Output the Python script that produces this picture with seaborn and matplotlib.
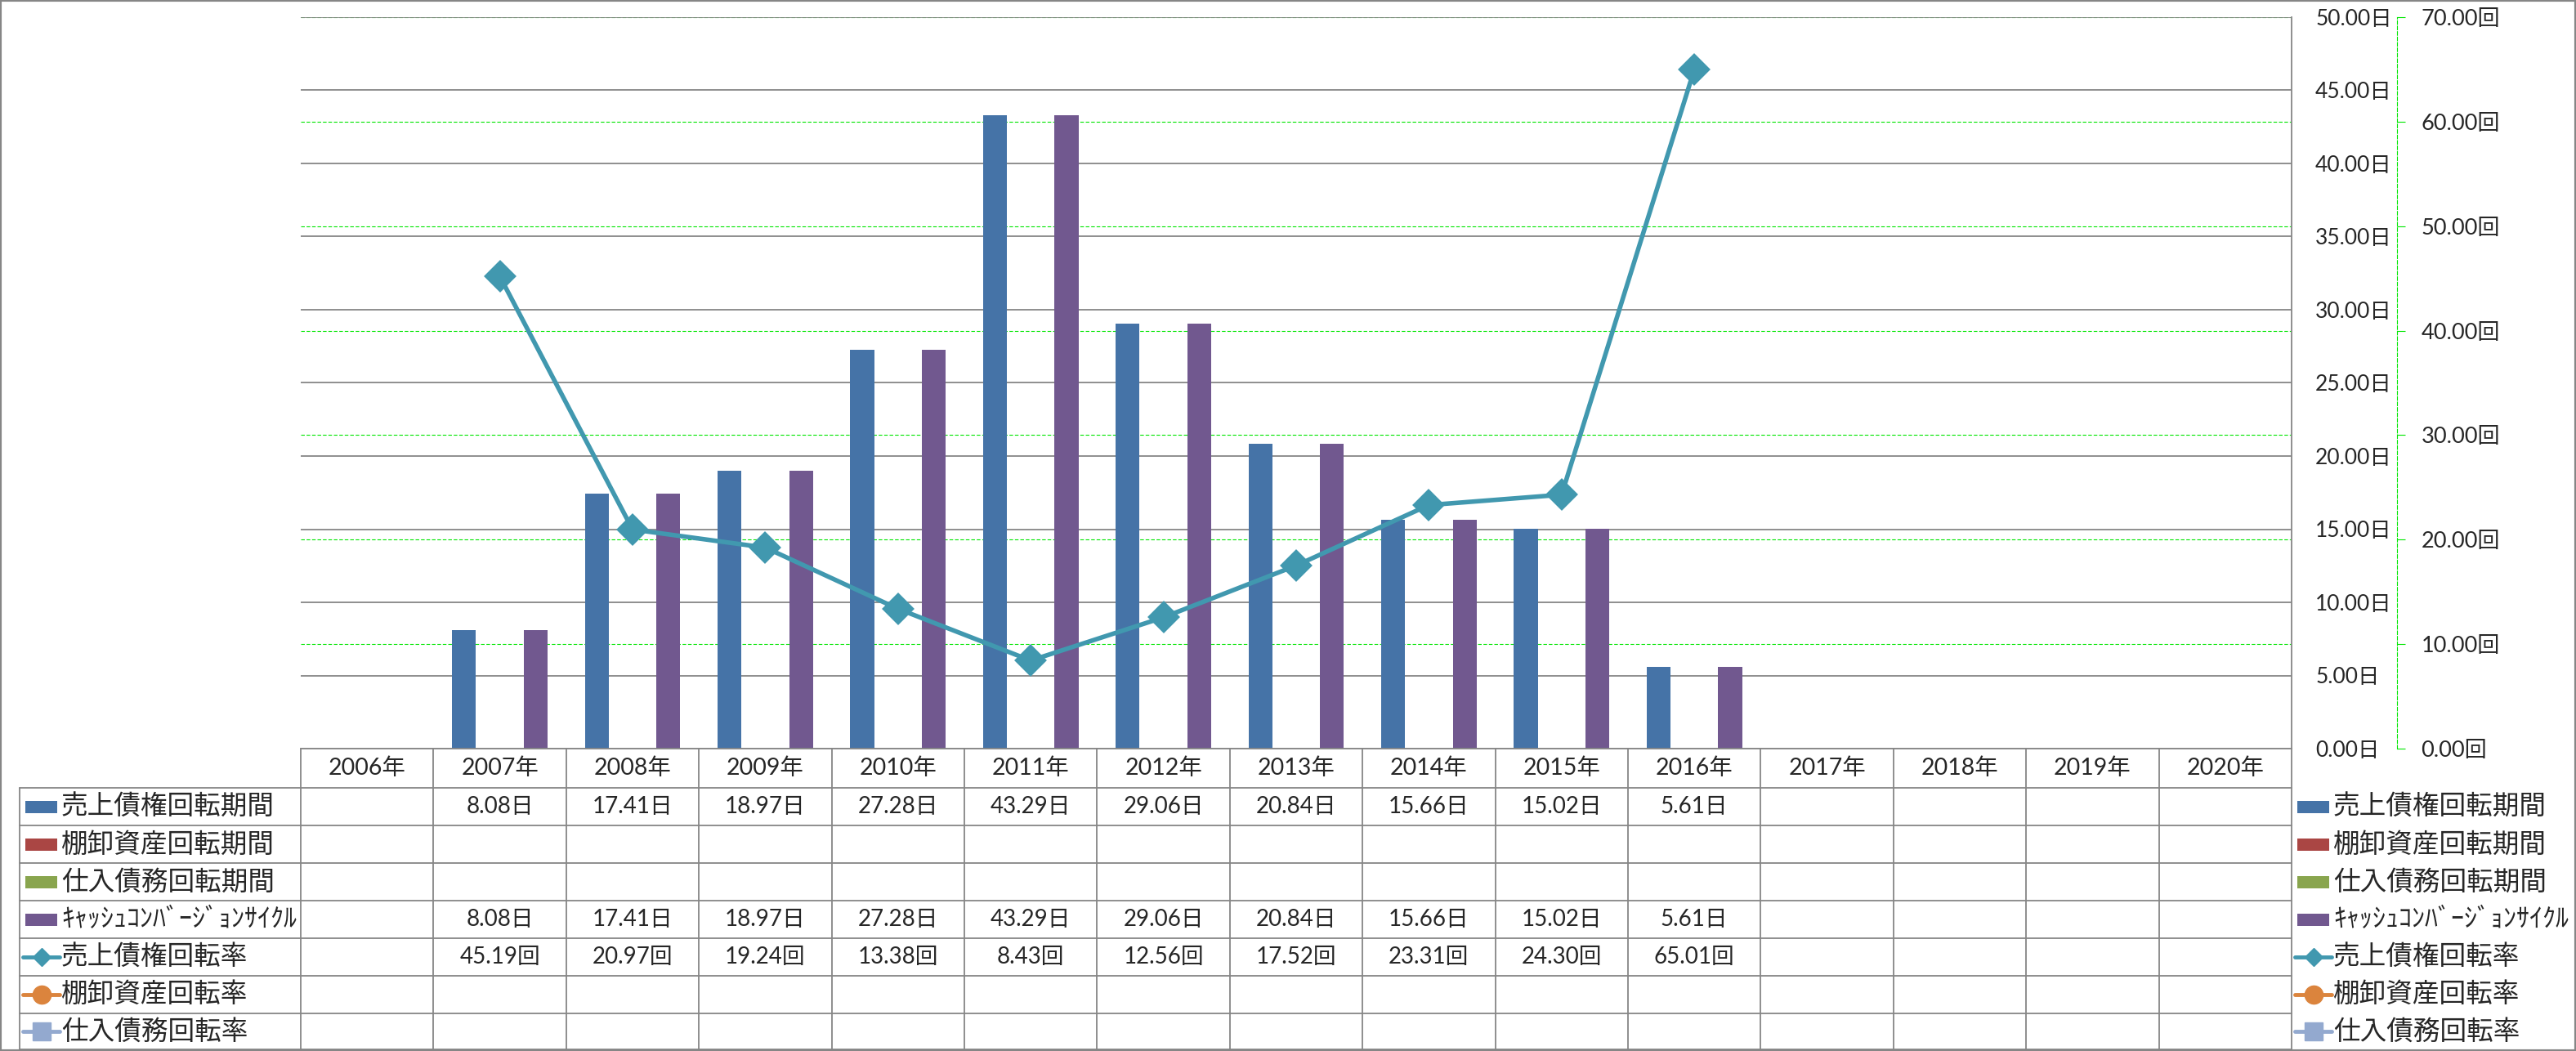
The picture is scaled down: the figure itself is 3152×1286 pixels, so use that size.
import matplotlib
matplotlib.use("Agg")
import matplotlib.pyplot as plt
import seaborn as sns
import pandas as pd
from matplotlib.lines import Line2D
from matplotlib.patches import Rectangle
from matplotlib.transforms import blended_transform_factory
import matplotlib.ticker as mticker

# ---------------- data ----------------
years = [f"{y}年" for y in range(2006, 2021)]
data_years = [f"{y}年" for y in range(2007, 2017)]

receivable_days = [8.08, 17.41, 18.97, 27.28, 43.29, 29.06, 20.84, 15.66, 15.02, 5.61]
inventory_days = []
payable_days = []
ccc_days = [8.08, 17.41, 18.97, 27.28, 43.29, 29.06, 20.84, 15.66, 15.02, 5.61]
receivable_turnover = [45.19, 20.97, 19.24, 13.38, 8.43, 12.56, 17.52, 23.31, 24.30, 65.01]
inventory_turnover = []
payable_turnover = []

bar_names = ["売上債権回転期間", "棚卸資産回転期間", "仕入債務回転期間", "ｷｬｯｼｭｺﾝﾊﾞｰｼﾞｮﾝｻｲｸﾙ"]
line_names = ["売上債権回転率", "棚卸資産回転率", "仕入債務回転率"]
bar_values = [receivable_days, inventory_days, payable_days, ccc_days]
line_values = [receivable_turnover, inventory_turnover, payable_turnover]

bar_colors = ["#4573A7", "#AA4644", "#89A54E", "#71588F"]
line_colors = ["#4198AF", "#DB843D", "#93A9CF"]
line_markers = ["D", "o", "s"]

y1_max, y1_step = 50, 5
y2_max, y2_step = 70, 10

# ---------------- style ----------------
sns.set_style("white")
FONT = ["Lato", "Noto Sans CJK JP", "DejaVu Sans"]
plt.rcParams["font.family"] = FONT

W, H = 3152, 1286
fig = plt.figure(figsize=(W / 100, H / 100), dpi=100)
fig.patch.set_facecolor("white")

def fx(px):
    return px / W

def fy(px):
    return 1 - px / H

PLOT_L, PLOT_R, PLOT_T, PLOT_B = 368, 2804, 21, 916
ax = fig.add_axes([fx(PLOT_L), fy(PLOT_B), fx(PLOT_R) - fx(PLOT_L), fy(PLOT_T) - fy(PLOT_B)])

GRAY = "#868686"
GREEN = "#00E600"

# ---------------- bars ----------------
rows = []
for name, vals in zip(bar_names, bar_values):
    for yr, v in zip(data_years, vals):
        rows.append({"year": yr, "series": name, "value": v})
bars_df = pd.DataFrame(rows)

sns.barplot(data=bars_df, x="year", y="value", hue="series", order=years,
            hue_order=bar_names, palette=dict(zip(bar_names, bar_colors)),
            width=0.72, errorbar=None, saturation=1, linewidth=0,
            legend=False, ax=ax)

# ---------------- line (secondary axis) ----------------
ax2 = ax.twinx()
rate_df = pd.DataFrame({"year": data_years, "value": receivable_turnover})
sns.pointplot(data=rate_df, x="year", y="value", order=years, color=line_colors[0],
              markers="D", markersize=17, linewidth=4, errorbar=None, ax=ax2)

# primary axis formatting (after twinx, which moves ticks to the left)
ax.set_xlim(-0.5, len(years) - 0.5)
ax.set_ylim(0, y1_max)
ax.yaxis.set_major_locator(mticker.MultipleLocator(y1_step))
ax.yaxis.set_major_formatter(mticker.FuncFormatter(lambda v, p: f"{v:.2f}日"))
ax.set_axisbelow(True)
ax.grid(axis="y", color=GRAY, lw=1.3, ls="-")
ax.grid(axis="x", visible=False)
ax.set_xlabel("")
ax.set_ylabel("")
ax.yaxis.tick_right()
ax.tick_params(axis="x", bottom=False, labelbottom=False)
ax.tick_params(axis="y", left=False, right=False, labelleft=False, labelright=True,
               length=0, pad=21, labelsize=19)
for s in ["top", "left"]:
    ax.spines[s].set_visible(False)
ax.spines["bottom"].set_color(GRAY)
ax.spines["bottom"].set_linewidth(1.3)
ax.spines["right"].set_color(GRAY)
ax.spines["right"].set_linewidth(1.3)

ax2.set_xlim(-0.5, len(years) - 0.5)
ax2.set_ylim(0, y2_max)
ax2.yaxis.set_major_locator(mticker.MultipleLocator(y2_step))
ax2.yaxis.set_major_formatter(mticker.FuncFormatter(lambda v, p: f"{v:.2f}回"))
ax2.grid(False)
ax2.set_xlabel("")
ax2.set_ylabel("")
for s in ["top", "left", "bottom"]:
    ax2.spines[s].set_visible(False)
ax2.spines["right"].set_position(("outward", 93))
ax2.spines["right"].set_color(GREEN)
ax2.spines["right"].set_linewidth(0.8)
ax2.spines["right"].set_linestyle((0, (4, 2)))
ax2.tick_params(axis="y", right=True, left=False, labelleft=False, labelright=True,
                length=7.2, width=0.8, color=GREEN, pad=14, labelsize=19.5)
ax2.tick_params(axis="x", bottom=False, labelbottom=False)

# secondary-axis gridlines drawn behind the bars (on the primary axes)
for t in ax2.get_yticks():
    if 0 < t <= y2_max:
        ax.axhline(t * y1_max / y2_max, color=GREEN, lw=0.8, ls=(0, (4, 2)), zorder=0.5)

# ---------------- data table ----------------
HEADER_T, HEADER_B = 916, 964
ROW_H = 46
TABLE_L = 24
n_rows = 7
row_tops = [HEADER_B + i * ROW_H for i in range(n_rows + 1)]
row_tops[-1] = 1284

tdx = blended_transform_factory(ax.transData, fig.transFigure)
lkw = dict(color=GRAY, lw=1.3, clip_on=False)

for i in range(len(years) + 1):
    fig.add_artist(Line2D([i - 0.5, i - 0.5], [fy(HEADER_T), fy(row_tops[-1])],
                          transform=tdx, **lkw))
fig.add_artist(Line2D([fx(TABLE_L), fx(TABLE_L)], [fy(HEADER_B), fy(row_tops[-1])],
                      transform=fig.transFigure, **lkw))
for yp in row_tops:
    fig.add_artist(Line2D([fx(TABLE_L), fx(PLOT_R)], [fy(yp), fy(yp)],
                          transform=fig.transFigure, **lkw))

for i, yr in enumerate(years):
    fig.text(i, fy((HEADER_T + HEADER_B) / 2), yr, transform=tdx, ha="center",
             va="center", fontsize=20.5)

all_names = bar_names + line_names
all_values = bar_values + line_values
units = ["日"] * 4 + ["回"] * 3
for r, (name, vals, unit) in enumerate(zip(all_names, all_values, units)):
    yc = fy((row_tops[r] + row_tops[r + 1]) / 2)
    for yr, v in zip(data_years, vals):
        fig.text(years.index(yr), yc, f"{v:.2f}{unit}", transform=tdx,
                 ha="center", va="center", fontsize=20)

def legend_key(r, x_left, x_text):
    yc_px = (row_tops[r] + row_tops[r + 1]) / 2
    if r < 4:
        fig.add_artist(Rectangle((fx(x_left + 3), fy(yc_px + 8)), fx(39), 15 / H,
                                 transform=fig.transFigure, facecolor=bar_colors[r],
                                 edgecolor="none"))
    else:
        k = r - 4
        fig.add_artist(Line2D([fx(x_left), fx(x_left + 45)], [fy(yc_px), fy(yc_px)],
                              transform=fig.transFigure, color=line_colors[k], lw=3.5))
        fig.add_artist(Line2D([fx(x_left + 22.5)], [fy(yc_px)],
                              transform=fig.transFigure, color=line_colors[k], lw=0,
                              marker=line_markers[k],
                              markersize=11.5 if line_markers[k] == "D" else 16))
    size = 23 if r == 3 else 23.5
    fig.text(fx(x_text), fy(yc_px), all_names[r], ha="left", va="center", fontsize=size)

for r in range(n_rows):
    legend_key(r, 28, 75)
    legend_key(r, 2808, 2855)

fig.add_artist(Rectangle((0, 0), 1, 1, transform=fig.transFigure, fill=False,
                         edgecolor=GRAY, lw=3, clip_on=False))

fig.savefig("out.png", dpi=100)
